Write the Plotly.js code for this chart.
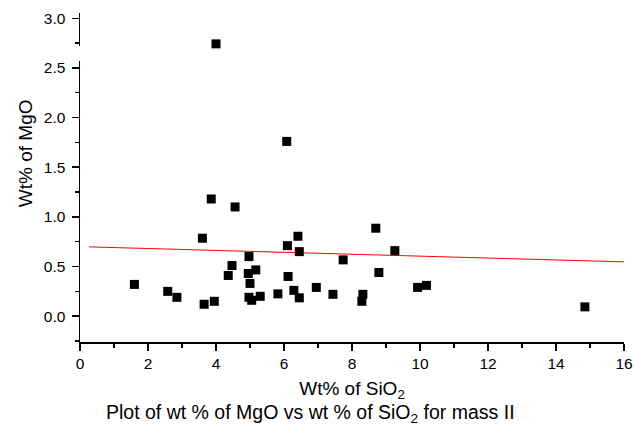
<!DOCTYPE html>
<html>
<head>
<meta charset="utf-8">
<script src="https://cdn.plot.ly/plotly-3.0.1.min.js"></script>
<style>html,body{margin:0;padding:0;background:#fff;}#chart{width:634px;height:427px;}</style>
</head>
<body>
<div id="chart"></div>
<script>
// Wt% of SiO2
var sio2 = [1.60, 2.58, 2.85, 3.60, 3.65, 3.86, 3.95, 4.00, 4.36, 4.47, 4.56, 4.95, 4.97, 4.97, 5.00, 5.05, 5.17, 5.30, 5.82, 6.08, 6.10, 6.12, 6.29, 6.41, 6.45, 6.45, 6.95, 7.44, 7.74, 8.29, 8.32, 8.70, 8.79, 9.26, 9.93, 10.19, 14.85];
// Wt% of MgO
var mgo = [0.32, 0.25, 0.19, 0.785, 0.12, 1.18, 0.15, 2.742, 0.41, 0.51, 1.10, 0.43, 0.60, 0.19, 0.33, 0.16, 0.466, 0.20, 0.225, 1.76, 0.71, 0.40, 0.26, 0.805, 0.65, 0.185, 0.29, 0.22, 0.567, 0.15, 0.22, 0.886, 0.44, 0.66, 0.29, 0.31, 0.094];
// linear fit line endpoints
var fitX = [0.27, 16];
var fitY = [0.698, 0.547];
var xTitle = 'Wt% of SiO<sub>2</sub>';
var yTitle = 'Wt% of MgO';
var caption = 'Plot of wt % of MgO vs wt % of SiO<sub>2</sub> for mass II';

var breakY = 2.6;
var loX = [], loY = [], hiX = [], hiY = [];
for (var i = 0; i < sio2.length; i++) {
  if (mgo[i] > breakY) { hiX.push(sio2[i]); hiY.push(mgo[i]); }
  else { loX.push(sio2[i]); loY.push(mgo[i]); }
}

var font = 'Liberation Sans, Arial, sans-serif';
var mk = {symbol: 'square', size: 9, color: '#000'};
var traces = [
  {x: fitX, y: fitY, mode: 'lines', line: {color: '#ff0000', width: 1}, xaxis: 'x', yaxis: 'y', hoverinfo: 'skip'},
  {x: loX, y: loY, mode: 'markers', marker: mk, xaxis: 'x', yaxis: 'y', cliponaxis: false},
  {x: hiX, y: hiY, mode: 'markers', marker: mk, xaxis: 'x', yaxis: 'y2', cliponaxis: false}
];

var axCommon = {
  showline: true, linecolor: '#000', linewidth: 1.5, mirror: false,
  ticks: 'outside', ticklen: 7, tickwidth: 1.5, tickcolor: '#000',
  showgrid: false, zeroline: false,
  tickfont: {family: font, size: 15.5, color: '#000'}
};

var layout = {
  width: 634, height: 427,
  margin: {l: 80, r: 10, t: 13, b: 85},
  paper_bgcolor: '#fff', plot_bgcolor: '#fff',
  showlegend: false,
  font: {family: font, color: '#000'},
  xaxis: Object.assign({}, axCommon, {
    range: [0, 16], dtick: 2, tick0: 0, anchor: 'y',
    minor: {dtick: 1, tick0: 0, ticks: 'outside', ticklen: 4, tickwidth: 1.5, tickcolor: '#000'},
    title: {text: xTitle, font: {family: font, size: 19, color: '#000'}, standoff: 10}
  }),
  yaxis: Object.assign({}, axCommon, {
    domain: [0, 0.8545], range: [-0.26, 2.571], dtick: 0.5, tick0: 0, tickformat: '.1f', anchor: 'x',
    ticklabelstandoff: 3,
    minor: {dtick: 0.25, tick0: 0, ticks: 'outside', ticklen: 4, tickwidth: 1.5, tickcolor: '#000'}
  }),
  yaxis2: Object.assign({}, axCommon, {
    domain: [0.8992, 1], range: [2.719, 3.053], dtick: 0.5, tick0: 0, tickformat: '.1f', anchor: 'x',
    ticklabelstandoff: 3,
    minor: {dtick: 0.25, tick0: 0, ticks: 'outside', ticklen: 4, tickwidth: 1.5, tickcolor: '#000'}
  }),
  annotations: [
    {text: yTitle, xref: 'paper', yref: 'paper', x: -0.101, y: 0.574, xanchor: 'center', yanchor: 'middle',
     textangle: -90, showarrow: false, font: {family: font, size: 19, color: '#000'}},
    {text: caption, xref: 'paper', yref: 'paper', x: 0.4246, y: -0.174, xanchor: 'center', yanchor: 'top',
     showarrow: false, font: {family: font, size: 19.5, color: '#000'}}
  ]
};

Plotly.newPlot('chart', traces, layout, {displayModeBar: false, staticPlot: true});
</script>
</body>
</html>
